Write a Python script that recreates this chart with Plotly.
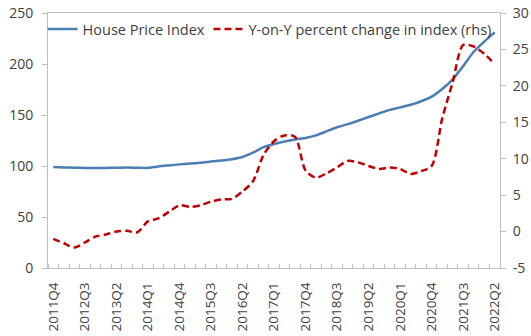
import plotly.graph_objects as go

# Quarterly periods 2011Q4 .. 2022Q2
quarters = ["2011Q4"] + [f"{y}Q{q}" for y in range(2012, 2022) for q in range(1, 5)] + ["2022Q1", "2022Q2"]

house_price_index = [
    99.0, 98.6, 98.3, 98.1, 98.0, 98.1, 98.3, 98.5, 98.3, 98.2,
    99.6, 100.6, 101.6, 102.5, 103.2, 104.3, 105.3, 106.6, 108.8, 113.0,
    118.5, 121.5, 124.0, 126.0, 127.5, 130.0, 134.0, 138.0, 141.0, 144.4,
    148.0, 151.6, 155.0, 157.5, 160.0, 163.5, 168.0, 175.5, 185.0, 198.0,
    212.0, 222.0, 231.0,
]

yoy_change = [
    -1.0, -1.6, -2.2, -1.5, -0.7, -0.4, 0.0, 0.1, -0.1, 1.4,
    1.8, 2.7, 3.6, 3.4, 3.6, 4.1, 4.4, 4.5, 5.5, 6.9,
    10.5, 12.4, 13.2, 13.0, 8.4, 7.4, 8.0, 8.8, 9.7, 9.5,
    9.0, 8.6, 8.8, 8.6, 7.9, 8.3, 9.0, 15.5, 20.5, 25.6,
    25.4, 24.4, 23.0,
]

# Right-hand axis ticks (percent change)
rhs_ticks = [-5, 0, 5, 10, 15, 20, 25, 30]
rhs_ticktext = [str(v) for v in rhs_ticks]

x = list(range(len(quarters)))
label_idx = list(range(0, len(quarters), 3))

axis_grey = "#bfbfbf"
text_grey = "#404040"
font_family = "Open Sans, Noto Sans, sans-serif"

fig = go.Figure()
fig.add_trace(go.Scatter(
    x=x, y=house_price_index, name="House Price Index", mode="lines",
    line=dict(color="#4a7eb4", width=2.5, shape="spline", smoothing=0.6),
    legend="legend",
))
fig.add_trace(go.Scatter(
    x=x, y=yoy_change, name="Y-on-Y percent change in index (rhs)", mode="lines",
    yaxis="y2",
    line=dict(color="#c00000", width=2.5, dash="7px,4px", shape="spline", smoothing=0.8),
    legend="legend2",
))

legend_style = dict(
    orientation="h", y=1.0, xanchor="left", yanchor="top",
    bgcolor="rgba(0,0,0,0)", font=dict(size=14.5, color=text_grey),
    itemwidth=30,
)

fig.update_layout(
    width=531, height=336,
    margin=dict(l=48, r=31, t=13, b=68),
    paper_bgcolor="white", plot_bgcolor="white",
    font=dict(family=font_family, size=14, color=text_grey),
    showlegend=True,
    legend=dict(x=-0.012, **legend_style),
    legend2=dict(x=0.355, **legend_style),
    xaxis=dict(
        range=[-0.5, len(quarters) - 0.5],
        tickmode="array", tickvals=label_idx,
        ticktext=[quarters[i] for i in label_idx],
        tickangle=-90, ticks="", showgrid=False, zeroline=False,
        tickfont=dict(size=13.5),
        ticklabelstandoff=8, automargin=False,
        showline=True, linecolor=axis_grey, linewidth=1, mirror=True,
        minor=dict(tick0=-0.5, dtick=1, ticks="inside", ticklen=4,
                   tickcolor=axis_grey, showgrid=False),
    ),
    yaxis=dict(
        range=[0, 250], dtick=50, showgrid=False, zeroline=False,
        showline=True, linecolor=axis_grey, linewidth=1,
        ticks="outside", ticklen=5, tickcolor=axis_grey,
        ticklabelstandoff=6, automargin=False,
    ),
    yaxis2=dict(
        range=[-5, 30], tickmode="array", tickvals=rhs_ticks, ticktext=rhs_ticktext,
        overlaying="y", side="right",
        showgrid=False, zeroline=False,
        showline=True, linecolor=axis_grey, linewidth=1,
        ticks="outside", ticklen=5, tickcolor=axis_grey,
        ticklabelstandoff=4, automargin=False,
    ),
)

fig.write_html("out.html")
